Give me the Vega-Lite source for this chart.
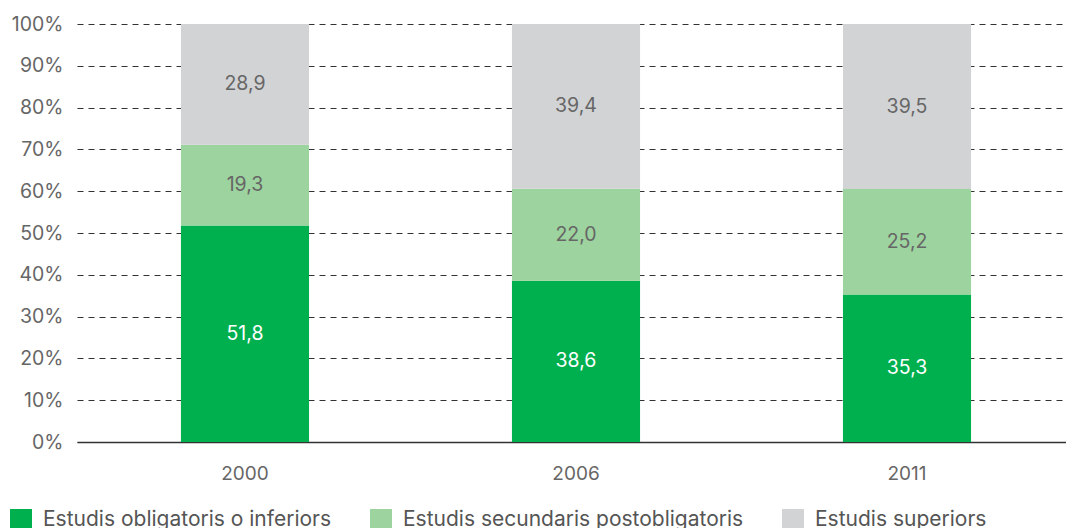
{
  "$schema": "https://vega.github.io/schema/vega-lite/v6.json",
  "width": 998,
  "height": 418,
  "autosize": {"type": "none"},
  "padding": {"left": 77, "top": 24, "right": 0, "bottom": 86},
  "config": {
    "view": {"stroke": null},
    "font": "Inter",
    "locale": {"number": {"decimal": ",", "thousands": ".", "grouping": [3], "currency": ["", " €"]}}
  },
  "data": {
    "values": [
      {"year": "2000", "level": "Estudis obligatoris o inferiors", "order": 1, "value": 51.8},
      {"year": "2000", "level": "Estudis secundaris postobligatoris", "order": 2, "value": 19.3},
      {"year": "2000", "level": "Estudis superiors", "order": 3, "value": 28.9},
      {"year": "2006", "level": "Estudis obligatoris o inferiors", "order": 1, "value": 38.6},
      {"year": "2006", "level": "Estudis secundaris postobligatoris", "order": 2, "value": 22.0},
      {"year": "2006", "level": "Estudis superiors", "order": 3, "value": 39.4},
      {"year": "2011", "level": "Estudis obligatoris o inferiors", "order": 1, "value": 35.3},
      {"year": "2011", "level": "Estudis secundaris postobligatoris", "order": 2, "value": 25.2},
      {"year": "2011", "level": "Estudis superiors", "order": 3, "value": 39.5}
    ]
  },
  "transform": [
    {"stack": "value", "groupby": ["year"], "sort": [{"field": "order", "order": "ascending"}], "as": ["v0", "v1"]},
    {"calculate": "(datum.v0 + datum.v1) / 2", "as": "mid"}
  ],
  "encoding": {
    "x": {
      "field": "year", "type": "nominal", "title": null,
      "scale": {"paddingInner": 0.613, "paddingOuter": 0.314},
      "axis": {
        "labelAngle": 0, "ticks": false, "tickSize": 0, "labelPadding": 22,
        "labelFontSize": 19, "labelColor": "#666666", "labelFontWeight": "normal",
        "domainColor": "#333333", "domainWidth": 1.5, "grid": false
      }
    }
  },
  "layer": [
    {
      "mark": {"type": "bar"},
      "encoding": {
        "y": {
          "field": "v0", "type": "quantitative", "title": null,
          "scale": {"domain": [0, 100], "nice": false},
          "axis": {
            "values": [0, 10, 20, 30, 40, 50, 60, 70, 80, 90, 100],
            "labelExpr": "datum.value + '%'",
            "domain": false, "ticks": false, "tickSize": 0, "labelPadding": 14,
            "labelFontSize": 19.5, "labelColor": "#666666",
            "gridColor": "#333333", "gridDash": [6, 5], "gridWidth": 1, "gridOpacity": 1
          }
        },
        "y2": {"field": "v1"},
        "color": {
          "field": "level", "type": "nominal",
          "scale": {
            "domain": ["Estudis obligatoris o inferiors", "Estudis secundaris postobligatoris", "Estudis superiors"],
            "range": ["#00b04f", "#9dd39e", "#d2d3d5"]
          },
          "legend": {
            "title": null, "orient": "none", "direction": "horizontal",
            "legendX": -67, "legendY": 485, "padding": 0,
            "symbolType": "square", "symbolSize": 484, "symbolStrokeWidth": 0, "symbolOpacity": 1,
            "labelFontSize": 21, "labelColor": "#555555", "labelOffset": 11, "labelLimit": 500,
            "columnPadding": 38
          }
        }
      }
    },
    {
      "mark": {"type": "text", "fontSize": 19.5, "baseline": "middle", "align": "center"},
      "encoding": {
        "y": {"field": "mid", "type": "quantitative"},
        "text": {"field": "value", "type": "quantitative", "format": ".1f"},
        "color": {"condition": {"test": "datum.order == 1", "value": "#ffffff"}, "value": "#666666"}
      }
    }
  ]
}
